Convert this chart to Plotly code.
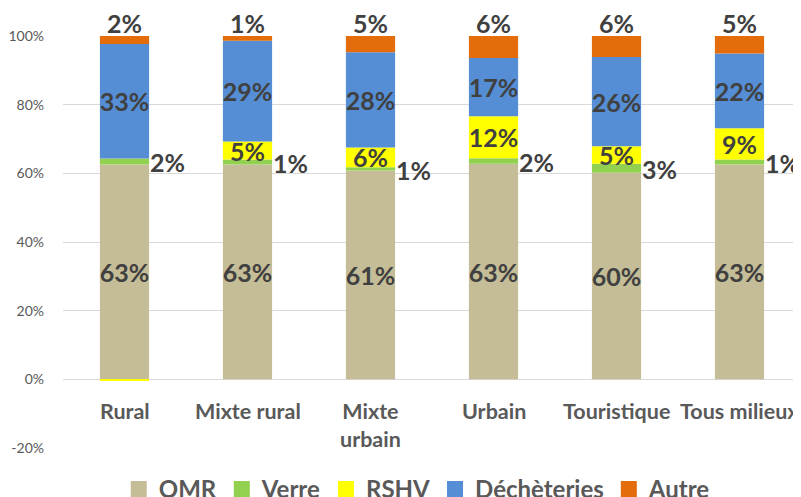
import plotly.graph_objects as go

categories = ["Rural", "Mixte rural", "Mixte<br>urbain", "Urbain", "Touristique", "Tous milieux"]
omr = [62.6, 62.6, 60.8, 62.8, 60.2, 62.6]
verre = [1.7, 1.4, 1.0, 1.6, 2.6, 1.4]
rshv = [-0.5, 5.3, 5.7, 12.2, 5.1, 9.1]
dech = [33.4, 29.3, 27.8, 17.0, 26.0, 21.8]
autre = [2.3, 1.4, 4.7, 6.4, 6.1, 5.1]

series_names = ["OMR", "Verre", "RSHV", "Déchèteries", "Autre"]
colors = ["#C4BD97", "#92D050", "#FFFF00", "#558ED5", "#E46C0A"]

y_tickvals = [-20, 0, 20, 40, 60, 80, 100]
y_ticktext = ["-20%", "0%", "20%", "40%", "60%", "80%", "100%"]

FONT = "Lato"
LABEL_COLOR = "#404040"
AXIS_COLOR = "#595959"
LBL_SIZE = 25


def pct(vals):
    return [f"{v:.0f}%" if v > 0 else "" for v in vals]


fig = go.Figure()
bar_w = 0.4
for name, vals, col, show_text in [
    ("OMR", omr, colors[0], True),
    ("Verre", verre, colors[1], False),
    ("RSHV", rshv, colors[2], True),
    ("Déchèteries", dech, colors[3], True),
    ("Autre", autre, colors[4], False),
]:
    fig.add_trace(go.Bar(
        x=categories, y=vals, name=name, width=bar_w,
        marker=dict(color=col, line=dict(width=0)),
        text=pct(vals) if show_text else None,
        textposition="inside" if show_text else "none",
        insidetextanchor="middle",
        textangle=0,
        textfont=dict(family=FONT, size=LBL_SIZE, color=LABEL_COLOR, weight="bold"),
        showlegend=False,
        hoverinfo="skip",
    ))

# legend entries with larger square swatches
for name, col in zip(series_names, colors):
    fig.add_trace(go.Scatter(
        x=[None], y=[None], mode="markers", name=name,
        marker=dict(symbol="square", size=18, color=col),
        showlegend=True,
    ))

annotations = []
for i, cat in enumerate(categories):
    v_mid = omr[i] + verre[i] / 2
    annotations.append(dict(
        x=cat, y=v_mid, xref="x", yref="y", text=f"{verre[i]:.0f}%",
        showarrow=False, xanchor="left", yanchor="middle", xshift=23, yshift=-1,
        font=dict(family=FONT, size=LBL_SIZE, color=LABEL_COLOR, weight="bold"),
    ))
    top = omr[i] + verre[i] + max(rshv[i], 0) + dech[i] + autre[i]
    annotations.append(dict(
        x=cat, y=top, xref="x", yref="y", text=f"{autre[i]:.0f}%",
        showarrow=False, xanchor="center", yanchor="bottom", yshift=-4,
        font=dict(family=FONT, size=LBL_SIZE, color=LABEL_COLOR, weight="bold"),
    ))
    annotations.append(dict(
        x=cat, y=0, xref="x", yref="y", text=cat,
        showarrow=False, xanchor="center", yanchor="top", yshift=-17,
        font=dict(family=FONT, size=21.5, color=AXIS_COLOR, weight="bold"),
    ))

fig.update_layout(
    width=793, height=489,
    margin=dict(l=55, r=0, t=28, b=49, autoexpand=False),
    barmode="relative",
    plot_bgcolor="white", paper_bgcolor="white",
    font=dict(family=FONT, color=AXIS_COLOR),
    uniformtext=dict(minsize=LBL_SIZE, mode="show"),
    xaxis=dict(
        type="category", range=[-0.5, 5.5], showticklabels=False,
        showgrid=False, zeroline=False, showline=False, ticks="",
    ),
    yaxis=dict(
        range=[-20, 100], tickvals=y_tickvals, ticktext=y_ticktext,
        showgrid=True, gridcolor="#D9D9D9", gridwidth=1,
        zeroline=True, zerolinecolor="#D9D9D9", zerolinewidth=1,
        tickfont=dict(family=FONT, size=14, color=AXIS_COLOR),
        ticklabelstandoff=18, showline=False,
    ),
    legend=dict(
        orientation="h", x=0.48, xanchor="center", y=-0.046, yanchor="top",
        font=dict(family=FONT, size=24, color=AXIS_COLOR, weight="bold"),
        itemsizing="trace", bgcolor="rgba(0,0,0,0)",
        tracegroupgap=0, itemwidth=30,
    ),
    annotations=annotations,
)

fig.write_html("out.html")
